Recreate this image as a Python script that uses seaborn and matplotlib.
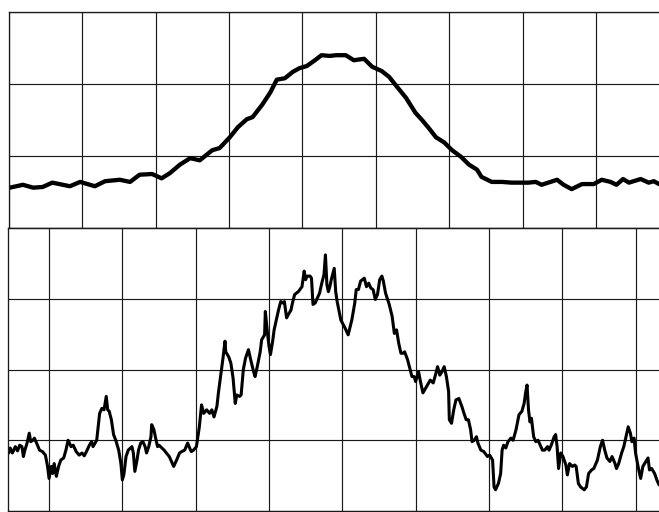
import numpy as np
import matplotlib
matplotlib.use("Agg")
import matplotlib.pyplot as plt
import seaborn as sns

# Upper trace (smoothed signal), x and y in grid divisions
top_x = [0.01, 0.19, 0.33, 0.46, 0.59, 0.83, 0.97, 1.17, 1.31, 1.51, 1.65, 1.78, 1.95, 2.08,
         2.19, 2.33, 2.47, 2.60, 2.77, 2.87, 3.01, 3.12, 3.24, 3.32, 3.45, 3.56, 3.65, 3.76,
         3.87, 3.96, 4.06, 4.17, 4.26, 4.37, 4.46, 4.59, 4.70, 4.84, 4.95, 5.08, 5.18, 5.29,
         5.41, 5.54, 5.63, 5.72, 5.82, 5.93, 6.04, 6.16, 6.27, 6.38, 6.44, 6.58, 6.72, 6.85,
         7.08, 7.18, 7.26, 7.38, 7.47, 7.56, 7.67, 7.81, 7.97, 8.08, 8.20, 8.28, 8.37, 8.45,
         8.61, 8.72, 8.79, 8.86]
top_y = [0.56, 0.60, 0.56, 0.57, 0.63, 0.58, 0.64, 0.58, 0.65, 0.67, 0.64, 0.74, 0.75, 0.69,
         0.76, 0.88, 0.97, 0.94, 1.08, 1.11, 1.26, 1.40, 1.51, 1.54, 1.71, 1.88, 2.06, 2.08,
         2.17, 2.22, 2.25, 2.33, 2.40, 2.39, 2.40, 2.40, 2.33, 2.35, 2.24, 2.18, 2.10, 1.96,
         1.81, 1.60, 1.50, 1.39, 1.26, 1.19, 1.08, 0.99, 0.88, 0.81, 0.71, 0.64, 0.64, 0.63,
         0.63, 0.64, 0.60, 0.64, 0.67, 0.60, 0.54, 0.61, 0.61, 0.67, 0.64, 0.60, 0.68, 0.63,
         0.68, 0.63, 0.65, 0.61]

# Lower trace (noisy signal), x and y in grid divisions
bot_x = [-0.55, -0.53, -0.50, -0.46, -0.43, -0.40, -0.37, -0.35, -0.33, -0.30, -0.27, -0.25,
         -0.22, -0.20, -0.17, -0.13, -0.09, -0.05, -0.02, 0.00, 0.03, 0.05, 0.07, 0.10, 0.13,
         0.16, 0.20, 0.23, 0.26, 0.30, 0.33, 0.37, 0.41, 0.45, 0.48, 0.51, 0.55, 0.58, 0.60,
         0.65, 0.69, 0.72, 0.75, 0.78, 0.80, 0.82, 0.85, 0.88, 0.91, 0.95, 0.98, 1.00, 1.02,
         1.05, 1.08, 1.13, 1.15, 1.17, 1.20, 1.22, 1.25, 1.28, 1.31, 1.33, 1.36, 1.39, 1.40,
         1.43, 1.46, 1.48, 1.50, 1.54, 1.57, 1.60, 1.64, 1.67, 1.70, 1.74, 1.78, 1.81, 1.85,
         1.89, 1.91, 1.94, 1.97, 2.01, 2.05, 2.08, 2.11, 2.15, 2.19, 2.22, 2.25, 2.29, 2.31,
         2.34, 2.37, 2.40, 2.41, 2.45, 2.48, 2.51, 2.54, 2.56, 2.60, 2.62, 2.65, 2.68, 2.72,
         2.75, 2.79, 2.81, 2.84, 2.88, 2.90, 2.94, 2.95, 2.98, 3.00, 3.02, 3.05, 3.07, 3.10,
         3.13, 3.16, 3.19, 3.21, 3.24, 3.26, 3.30, 3.32, 3.35, 3.40, 3.45, 3.48, 3.50, 3.52,
         3.56, 3.58, 3.60, 3.63, 3.66, 3.69, 3.72, 3.75, 3.77, 3.79, 3.81, 3.83,
         3.85, 3.89, 3.91, 3.93, 3.98, 4.04, 4.08, 4.13, 4.17, 4.19, 4.22, 4.25, 4.30, 4.33,
         4.36, 4.39, 4.42, 4.45, 4.48, 4.51, 4.54, 4.56, 4.59, 4.64, 4.68, 4.71, 4.74, 4.77,
         4.80, 4.83, 4.85, 4.89, 4.92, 4.95, 4.98, 5.00, 5.04, 5.07, 5.10, 5.15, 5.20, 5.24,
         5.27, 5.30, 5.33, 5.36, 5.39, 5.42, 5.45, 5.46, 5.49, 5.52, 5.55, 5.59, 5.63, 5.66,
         5.69, 5.72, 5.75, 5.77, 5.80, 5.83, 5.85, 5.89, 5.93, 5.98, 6.01, 6.05, 6.07, 6.09,
         6.13, 6.16, 6.18, 6.20, 6.23, 6.26, 6.30, 6.33, 6.37, 6.41, 6.45, 6.48, 6.50, 6.52,
         6.54, 6.56, 6.58, 6.61, 6.64, 6.67, 6.70, 6.73, 6.76, 6.80, 6.82, 6.85, 6.89, 6.91,
         6.93, 6.95, 6.98, 7.01, 7.05, 7.07, 7.10, 7.14, 7.17, 7.19, 7.22, 7.25, 7.30, 7.33,
         7.36, 7.40, 7.43, 7.48, 7.52, 7.55, 7.58, 7.61, 7.65, 7.68, 7.72, 7.74, 7.77, 7.81,
         7.84, 7.87, 7.90, 7.93, 7.95, 7.98, 8.00, 8.04, 8.07, 8.10, 8.14, 8.17, 8.19, 8.22,
         8.26, 8.29, 8.32]
bot_y = [0.82, 0.89, 0.82, 0.91, 0.85, 0.93, 0.91, 0.77, 0.86, 0.96, 1.10, 0.98,
         1.00, 1.03, 0.96, 0.86, 0.84, 0.79, 0.63, 0.46, 0.63, 0.53, 0.67, 0.49, 0.63,
         0.72, 0.75, 0.86, 1.00, 0.91, 0.93, 0.84, 0.79, 0.82, 0.78, 0.84, 0.93, 0.98, 0.91,
         1.00, 1.38, 1.45, 1.43, 1.62, 1.43, 1.41, 1.29, 1.08, 1.00, 0.86, 0.67, 0.44, 0.51,
         0.77, 0.86, 0.91, 0.82, 0.56, 0.72, 0.86, 0.96, 0.98, 0.91, 0.82, 0.91, 1.05, 1.22,
         1.15, 1.00, 0.91, 0.93, 0.89, 0.86, 0.82, 0.77, 0.70, 0.63, 0.72, 0.82, 0.84, 0.86,
         0.96, 0.91, 0.84, 0.86, 0.91, 1.19, 1.50, 1.38, 1.43, 1.38, 1.43, 1.33, 1.48, 1.67,
         1.90, 2.14, 2.40, 2.25, 2.18, 2.09, 1.88, 1.52, 1.64, 1.62, 1.64, 2.00, 2.16, 2.28,
         2.14, 1.97, 1.90, 2.04, 2.25, 2.42, 2.49, 2.82, 2.51, 2.33, 2.21, 2.40, 2.56, 2.70,
         2.84, 2.96, 2.94, 2.96, 2.73, 2.77, 2.84, 2.94, 3.06, 3.10, 3.17, 3.39, 3.27, 3.32,
         3.32, 3.29, 2.92, 2.94, 3.01, 3.08, 3.22, 3.34, 3.62, 3.20, 3.10, 3.17,
         3.27, 3.43, 3.10, 2.96, 2.70, 2.58, 2.49, 2.70, 2.94, 3.13, 3.13, 3.25, 3.29, 3.17,
         3.22, 3.15, 3.13, 2.99, 3.06, 3.27, 3.32, 3.25, 3.08, 2.92, 2.75, 2.51, 2.56, 2.37,
         2.23, 2.23, 2.25, 2.14, 2.02, 1.90, 1.90, 1.83, 1.97, 1.81, 1.67, 1.76, 1.85, 1.81,
         1.92, 2.04, 1.92, 1.97, 2.04, 1.90, 1.69, 1.29, 1.24, 1.43, 1.57, 1.59, 1.48, 1.38,
         1.29, 1.29, 1.15, 0.98, 1.00, 1.05, 0.96, 0.86, 0.84, 0.77, 0.79, 0.72, 0.34, 0.30,
         0.39, 0.53, 0.86, 0.93, 0.89, 0.98, 1.03, 1.00, 1.15, 1.36, 1.41, 1.52, 1.67, 1.78,
         1.43, 1.26, 1.31, 1.05, 0.98, 1.00, 0.93, 0.86, 0.86, 0.91, 0.86, 0.93, 1.05, 1.08,
         0.91, 0.60, 0.82, 0.77, 0.65, 0.51, 0.67, 0.63, 0.65, 0.63, 0.39, 0.34, 0.30, 0.34,
         0.53, 0.58, 0.60, 0.72, 0.91, 1.00, 0.86, 0.75, 0.70, 0.77, 0.67, 0.60, 0.67, 0.82,
         0.91, 1.05, 1.19, 1.10, 0.98, 1.03, 0.82, 0.60, 0.46, 0.63, 0.70, 0.75, 0.58, 0.60,
         0.53, 0.44, 0.37]

sns.set_style("white")
fig = plt.figure(figsize=(6.59, 5.12), dpi=100)
fig.patch.set_facecolor("white")

W, H = 659.0, 512.0
grid_kw = dict(color="#1a1a1a", linewidth=0.85)

# Top panel
ax1 = fig.add_axes([9 / W, (H - 228) / H, 650 / W, 216 / H])
sns.lineplot(x=top_x, y=top_y, ax=ax1, color="black", linewidth=3.1,
             sort=False, estimator=None)
ax1.lines[0].set_solid_capstyle("round")
ax1.lines[0].set_solid_joinstyle("round")
ax1.set_xlim(0, 8.86)
ax1.set_ylim(0, 3)
ax1.set_xticks(np.arange(0, 9))
ax1.set_yticks(np.arange(0, 4))

# Bottom panel
ax2 = fig.add_axes([8 / W, 1 / H, 651 / W, 283 / H])
sns.lineplot(x=bot_x, y=bot_y, ax=ax2, color="black", linewidth=2.2,
             sort=False, estimator=None)
ax2.lines[0].set_solid_joinstyle("round")
ax2.set_xlim(-0.56, 8.32)
ax2.set_ylim(0, 4)
ax2.set_xticks(np.arange(0, 9))
ax2.set_yticks(np.arange(0, 5))

for ax in (ax1, ax2):
    ax.grid(True, **grid_kw)
    ax.set_axisbelow(True)
    ax.tick_params(length=0, labelleft=False, labelbottom=False)
    ax.set_xlabel("")
    ax.set_ylabel("")
    for side in ("left", "top", "bottom"):
        ax.spines[side].set_visible(True)
        ax.spines[side].set_color("#1a1a1a")
        ax.spines[side].set_linewidth(0.95)
    ax.spines["right"].set_visible(False)
    ax.set_facecolor("white")

fig.savefig("out.png", dpi=100, facecolor="white")
